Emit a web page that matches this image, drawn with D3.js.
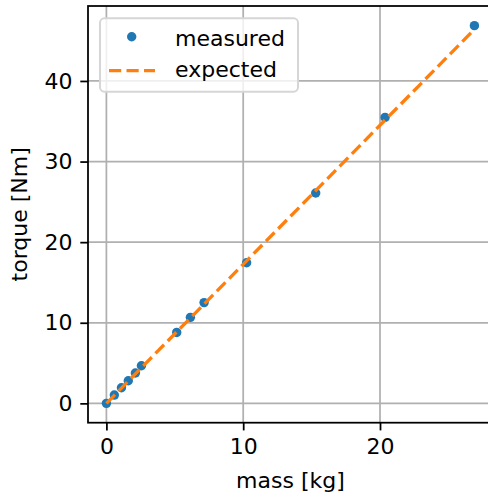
<!DOCTYPE html>
<html>
<head>
<meta charset="utf-8">
<script src="https://cdn.jsdelivr.net/npm/d3@7"></script>
<style>
  body { margin: 0; background: #fff; }
  svg { display: block; font-family: "DejaVu Sans", sans-serif; }
</style>
</head>
<body>
<svg id="chart" width="488" height="495"></svg>
<script>
const mass = [0, 0.58, 1.1, 1.6, 2.12, 2.56, 5.14, 6.14, 7.14, 10.25, 15.3, 20.37, 26.9];
const measured = [0, 1.03, 1.94, 2.8, 3.76, 4.67, 8.8, 10.67, 12.5, 17.44, 26.1, 35.48, 46.86];
const expected = [0, 1.0, 1.9, 2.76, 3.66, 4.42, 8.87, 10.59, 12.32, 17.68, 26.39, 35.14, 46.4];
const xTicks = [0, 10, 20];
const yTicks = [0, 10, 20, 30, 40];
const seriesNames = ["measured", "expected"];

const svg = d3.select("#chart");

// axes box (the right spine falls just outside the window)
const plotL = 88, plotR = 492.8, plotT = 6, plotB = 422.7;

const x = d3.scaleLinear().domain([-1.345, 28.245]).range([plotL, plotR]);
const y = d3.scaleLinear().domain([-2.4, 49.3]).range([plotB, plotT]);

const fontSize = 22;
const gridColor = "#b0b0b0";

// grid lines
svg.append("g")
    .selectAll("line")
    .data(xTicks)
    .enter()
    .append("line")
    .attr("x1", d => x(d)).attr("x2", d => x(d))
    .attr("y1", plotT).attr("y2", plotB)
    .attr("stroke", gridColor)
    .attr("stroke-width", 1.76);

svg.append("g")
    .selectAll("line")
    .data(yTicks)
    .enter()
    .append("line")
    .attr("y1", d => y(d)).attr("y2", d => y(d))
    .attr("x1", plotL).attr("x2", plotR)
    .attr("stroke", gridColor)
    .attr("stroke-width", 1.76);

// measured points
svg.append("g")
    .selectAll("circle")
    .data(mass)
    .enter()
    .append("circle")
    .attr("cx", d => x(d))
    .attr("cy", (d, i) => y(measured[i]))
    .attr("r", 4.7)
    .attr("fill", "#1f77b4");

// expected line, dashed
const line = d3.line()
    .x(d => x(d[0]))
    .y(d => y(d[1]));

svg.append("path")
    .datum(mass.map((m, i) => [m, expected[i]]))
    .attr("d", line)
    .attr("fill", "none")
    .attr("stroke", "#ff7f0e")
    .attr("stroke-width", 3.3)
    .attr("stroke-dasharray", "12.2,5.3");

// axes
const xAxis = svg.append("g")
    .attr("transform", `translate(0,${plotB})`)
    .call(d3.axisBottom(x).tickValues(xTicks).tickSize(7.7).tickPadding(7.7).tickSizeOuter(0));

const yAxis = svg.append("g")
    .attr("transform", `translate(${plotL},0)`)
    .call(d3.axisLeft(y).tickValues(yTicks).tickSize(7.7).tickPadding(7.7).tickSizeOuter(0));

[xAxis, yAxis].forEach(a => {
    a.select(".domain").remove();
    a.selectAll(".tick line").attr("stroke", "#000").attr("stroke-width", 1.76);
    a.selectAll(".tick text")
        .attr("fill", "#000")
        .style("font-size", fontSize + "px")
        .style("font-family", "DejaVu Sans");
});

// spines
svg.append("rect")
    .attr("x", plotL).attr("y", plotT)
    .attr("width", plotR - plotL).attr("height", plotB - plotT)
    .attr("fill", "none")
    .attr("stroke", "#000")
    .attr("stroke-width", 1.76);

// axis labels
svg.append("text")
    .attr("x", (plotL + plotR) / 2)
    .attr("y", 488)
    .attr("text-anchor", "middle")
    .style("font-size", fontSize + "px")
    .text("mass [kg]");

svg.append("text")
    .attr("transform", `translate(27,${(plotT + plotB) / 2}) rotate(-90)`)
    .attr("text-anchor", "middle")
    .style("font-size", fontSize + "px")
    .text("torque [Nm]");

// legend
const legend = svg.append("g");
legend.append("rect")
    .attr("x", 100).attr("y", 18.3)
    .attr("width", 198).attr("height", 73.4)
    .attr("rx", 4.4).attr("ry", 4.4)
    .attr("fill", "#fff").attr("fill-opacity", 0.8)
    .attr("stroke", "#d6d6d6")
    .attr("stroke-width", 2);

legend.append("circle")
    .attr("cx", 131.7).attr("cy", 36.7)
    .attr("r", 4.7)
    .attr("fill", "#1f77b4");

legend.append("line")
    .attr("x1", 109).attr("x2", 155)
    .attr("y1", 70.7).attr("y2", 70.7)
    .attr("stroke", "#ff7f0e")
    .attr("stroke-width", 3.3)
    .attr("stroke-dasharray", "12.2,5.3");

legend.selectAll("text.lbl")
    .data(seriesNames)
    .enter()
    .append("text")
    .attr("class", "lbl")
    .attr("x", 175)
    .attr("y", (d, i) => 45.5 + i * 31.5)
    .style("font-size", fontSize + "px")
    .text(d => d);
</script>
</body>
</html>
